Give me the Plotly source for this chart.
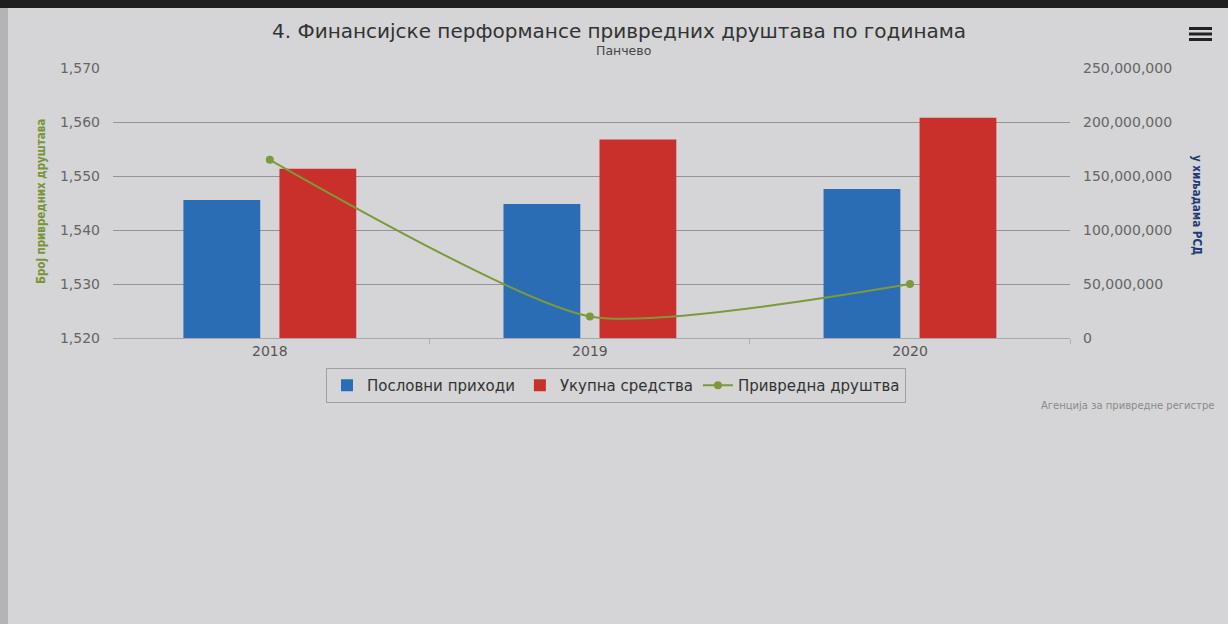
import plotly.graph_objects as go

years = ["2018", "2019", "2020"]
poslovni_prihodi = [127800000, 124000000, 138000000]
ukupna_sredstva = [156700000, 183800000, 204000000]
privredna_drustva = [1553, 1524, 1530]

title_text = "4. Финансијске перформансе привредних друштава по годинама"
subtitle_text = "Панчево"
left_title = "Број привредних друштава"
right_title = "у хиљадама РСД"
credits_text = "Агенција за привредне регистре"

W, H = 1228, 624
L, R, T, B = 113, 158, 68, 286
PW, PH = W - L - R, H - T - B


def px(x):
    return (x - L) / PW


def py(y):
    return (H - B - y) / PH


FONT = "DejaVu Sans"
BG = "#d5d5d7"

fig = go.Figure()
fig.add_trace(go.Bar(
    x=years, y=poslovni_prihodi, name="Пословни приходи",
    marker=dict(color="#2a6db5", line=dict(width=0)), yaxis="y",
))
fig.add_trace(go.Bar(
    x=years, y=ukupna_sredstva, name="Укупна средства",
    marker=dict(color="#c9302b", line=dict(width=0)), yaxis="y",
))
fig.add_trace(go.Scatter(
    x=years, y=privredna_drustva, name="Привредна друштва",
    mode="lines+markers",
    line=dict(color="#7d9a3a", width=2, shape="spline", smoothing=0.6),
    marker=dict(color="#7d9a3a", size=8), yaxis="y2",
))

shapes = [
    dict(type="rect", xref="paper", yref="paper",
         x0=px(0), x1=px(W), y0=py(0), y1=py(8),
         fillcolor="#1e1e1e", line=dict(width=0), layer="above"),
    dict(type="rect", xref="paper", yref="paper",
         x0=px(0), x1=px(8), y0=py(8), y1=py(H),
         fillcolor="#b4b4b6", line=dict(width=0), layer="below"),
]
for yy in (28.5, 34, 39.5):
    shapes.append(dict(type="line", xref="paper", yref="paper",
                       x0=px(1189), x1=px(1212), y0=py(yy), y1=py(yy),
                       line=dict(color="#222222", width=3)))

annotations = [
    dict(text=title_text, x=px(619), y=py(31), xref="paper", yref="paper",
         showarrow=False, font=dict(family=FONT, size=20, color="#333333"),
         xanchor="center", yanchor="middle"),
    dict(text=subtitle_text, x=px(623), y=py(50), xref="paper", yref="paper",
         showarrow=False, font=dict(family=FONT, size=12.5, color="#444444"),
         xanchor="center", yanchor="middle"),
    dict(text="<b>%s</b>" % left_title, x=px(41), y=py(202), xref="paper", yref="paper",
         showarrow=False, textangle=-90,
         font=dict(family="DejaVu Sans Condensed", size=11.5, color="#7a9438"),
         xanchor="center", yanchor="middle"),
    dict(text="<b>%s</b>" % right_title, x=px(1197), y=py(205), xref="paper", yref="paper",
         showarrow=False, textangle=90,
         font=dict(family="DejaVu Sans Condensed", size=11.5, color="#1f3c78"),
         xanchor="center", yanchor="middle"),
    dict(text=credits_text, x=px(1216), y=py(405), xref="paper", yref="paper",
         showarrow=False, font=dict(family=FONT, size=10, color="#8a8a8a"),
         xanchor="right", yanchor="middle"),
]

fig.update_layout(
    width=W, height=H,
    margin=dict(l=L, r=R, t=T, b=B, autoexpand=False),
    paper_bgcolor=BG, plot_bgcolor=BG,
    font=dict(family=FONT, size=11, color="#666666"),
    barmode="group", bargap=0.4, bargroupgap=0.2,
    showlegend=True,
    legend=dict(
        orientation="h", x=px(616), xanchor="center", y=py(368), yanchor="top",
        bgcolor="rgba(0,0,0,0)", bordercolor="#a0a0a0", borderwidth=1,
        font=dict(family=FONT, size=15, color="#333333"),
        traceorder="normal", itemsizing="trace",
    ),
    xaxis=dict(
        type="category", range=[-0.49, 2.5], showgrid=False,
        showline=True, linecolor="#a8a8a8", linewidth=1,
        tickfont=dict(family=FONT, size=14, color="#555555"),
        ticks="outside", tickson="boundaries", ticklen=5, tickcolor="#b0b0b0",
        fixedrange=True,
    ),
    yaxis=dict(
        side="right", range=[0, 250000000], dtick=50000000, tickformat=",d",
        showgrid=True, gridcolor="#949494", gridwidth=1, zeroline=False,
        tickfont=dict(family=FONT, size=14, color="#666666"),
        ticklabelstandoff=12, showline=False,
    ),
    yaxis2=dict(
        side="left", overlaying="y", range=[1520, 1570], dtick=10,
        tickformat=",d", showgrid=False, zeroline=False,
        tickfont=dict(family=FONT, size=14, color="#666666"),
        ticklabelstandoff=12, showline=False,
    ),
    shapes=shapes,
    annotations=annotations,
)

fig.write_html(
    "out.html",
    config={"displayModeBar": False},
    post_script="document.body.style.margin='0';document.body.style.background='%s';" % BG,
)
